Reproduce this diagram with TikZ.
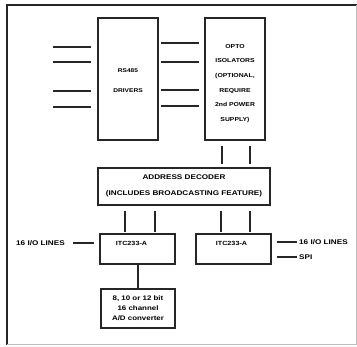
\documentclass[tikz,border=0pt]{standalone}
\usepackage{fontspec}
\setmainfont{Liberation Sans}
\newfontfamily\wf[FakeStretch=1.2]{Liberation Sans}
\begin{document}
\begin{tikzpicture}[x=1pt,y=-1pt,
  box/.style={draw=black!85,line width=1.2pt,rectangle,inner sep=0pt},
  txt/.style={inner sep=0pt,align=center},
  ln/.style={draw=black!85,line width=1.2pt},
  lbl/.style={font=\fontsize{6.8}{7}\wf\bfseries,inner sep=0pt}]
\useasboundingbox (0,0) rectangle (357,347);
% frame
\draw[line width=1.8pt,black!85] (7,345) -- (7,5) -- (357,5);
\draw[line width=0.6pt,black!25] (356,5) -- (356,344) -- (7,344);
% boxes
\node[box,minimum width=60pt,minimum height=122pt,
  label={[txt,font=\fontsize{5.5}{20}\wf\bfseries,yshift=-2pt]center:RS485\\DRIVERS}] (rs) at (128,79) {};
\node[box,minimum width=60pt,minimum height=122pt,
  label={[txt,font=\fontsize{5.7}{14.6}\wf\bfseries,yshift=-4.5pt]center:OPTO\\ISOLATORS\\(OPTIONAL,\\REQUIRE\\2nd POWER\\SUPPLY)}] (opto) at (235,79) {};
\node[box,minimum width=172pt,minimum height=37pt,
  label={[txt,font=\fontsize{6.8}{16}\wf\bfseries,yshift=1pt]center:ADDRESS DECODER\\(INCLUDES BROADCASTING FEATURE)}] (dec) at (184,186.5) {};
\node[box,minimum width=75pt,minimum height=30pt,
  label={[lbl,font=\fontsize{6}{7}\wf\bfseries,yshift=6pt,xshift=-6pt]center:ITC233-A}] (itca) at (137.5,249) {};
\node[box,minimum width=75pt,minimum height=30pt,
  label={[lbl,font=\fontsize{6}{7}\wf\bfseries,yshift=6pt,xshift=-2pt]center:ITC233-A}] (itcb) at (233.5,249) {};
\node[box,minimum width=74pt,minimum height=39pt,
  label={[txt,font=\fontsize{6.6}{10}\wf\bfseries,yshift=0.5pt]center:8, 10 or 12 bit\\16 channel\\A/D converter}] (adc) at (138,308.5) {};
% left input lines
\foreach \y/\n in {47/a,62/b,91/c,107/d}{
  \coordinate (in\n) at (53,\y);
  \draw[ln,shorten >=6pt] (in\n) -- (rs.west |- in\n);
}
% RS485 to opto lines
\foreach \y in {43,62,90,106}{
  \draw[ln,shorten <=2pt,shorten >=5pt] (rs.east |- 0,\y) -- (opto.west |- 0,\y);
}
% opto to decoder
\foreach \x in {222,250}{
  \draw[ln,shorten <=5pt,shorten >=3pt] (opto.south -| \x,0) -- (dec.north -| \x,0);
}
% decoder to ITCs
\foreach \x in {125,155}{
  \draw[ln,shorten <=5pt,shorten >=1pt] (dec.south -| \x,0) -- (itca.north -| \x,0);
}
\foreach \x in {221,250}{
  \draw[ln,shorten <=5pt,shorten >=1pt] (dec.south -| \x,0) -- (itcb.north -| \x,0);
}
% ITC to ADC
\draw[ln] (itca.south -| 138,0) -- (adc.north -| 138,0);
% left I/O lines
\node[lbl,anchor=west] (lio) at (16,243) {16 I/O LINES};
\coordinate (lioend) at (73,243);
\draw[ln,shorten >=5pt] (lioend) -- (itca.west |- lioend);
% right I/O lines
\node[lbl,anchor=west] (rio) at (299,242) {16 I/O LINES};
\node[lbl,anchor=west] (spi) at (299,257) {SPI};
\draw[ln,shorten <=5pt,shorten >=2pt] (itcb.east |- rio.west) -- (rio.west);
\draw[ln,shorten <=5pt,shorten >=2pt] (itcb.east |- spi.west) -- (spi.west);
\end{tikzpicture}
\end{document}
